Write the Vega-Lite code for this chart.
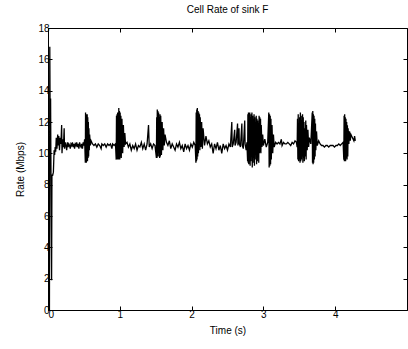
{
"$schema": "https://vega.github.io/schema/vega-lite/v6.json",
"width": 359, "height": 282,
"autosize": "none",
"padding": {"left": 48, "top": 28, "right": 1, "bottom": 39},
"background": "white",
"config": {
  "view": {"stroke": "#000000", "strokeWidth": 1},
  "font": "Liberation Sans",
  "axis": {"grid": false, "domainColor": "#000000", "tickColor": "#000000", "labelColor": "#000000", "titleColor": "#000000", "labelFontSize": 10, "titleFontSize": 10, "titleFontWeight": "normal", "labelFont": "Liberation Sans", "titleFont": "Liberation Sans", "tickSize": -4, "labelPadding": 3}
},
"title": {"text": "Cell Rate of sink F", "fontSize": 10, "fontWeight": "normal", "offset": 8, "font": "Liberation Sans", "color": "#000000"},
"data": {"values": [
{"t":0.02,"r":0},{"t":0.025,"r":16.8},{"t":0.03,"r":12.0},{"t":0.036,"r":13.5},{"t":0.04,"r":9.8},{"t":0.045,"r":5.5},{"t":0.05,"r":1.9},{"t":0.055,"r":8.6},{"t":0.065,"r":8.6},{"t":0.075,"r":8.8},{"t":0.085,"r":10.2},{"t":0.092,"r":9.9},{"t":0.1,"r":10.4},
{"t":0.107,"r":10.1},{"t":0.115,"r":11.0},{"t":0.125,"r":10.3},{"t":0.135,"r":11.2},{"t":0.14,"r":10.5},{"t":0.15,"r":11.1},{"t":0.16,"r":10.2},{"t":0.17,"r":11.0},{"t":0.18,"r":10.6},{"t":0.19,"r":11.8},{"t":0.195,"r":10.0},{"t":0.205,"r":10.9},{"t":0.215,"r":10.4},{"t":0.225,"r":11.6},{"t":0.23,"r":10.3},{"t":0.24,"r":10.7},{"t":0.25,"r":10.5},{"t":0.26,"r":10.2},{"t":0.27,"r":10.7},{"t":0.28,"r":10.4},{"t":0.29,"r":10.6},{"t":0.3,"r":10.5},{"t":0.31,"r":10.3},{"t":0.32,"r":10.6},{"t":0.33,"r":10.5},{"t":0.34,"r":10.7},{"t":0.35,"r":10.4},{"t":0.36,"r":10.6},{"t":0.37,"r":10.3},{"t":0.38,"r":10.6},{"t":0.39,"r":10.5},{"t":0.4,"r":10.7},{"t":0.41,"r":10.4},{"t":0.42,"r":10.6},{"t":0.43,"r":10.3},{"t":0.44,"r":10.7},{"t":0.45,"r":10.5},{"t":0.46,"r":10.4},{"t":0.47,"r":10.6},{"t":0.48,"r":10.3},{"t":0.49,"r":10.7},{"t":0.5,"r":10.5},{"t":0.51,"r":10.9},
{"t":0.52,"r":9.4},{"t":0.523,"r":12.6},{"t":0.527,"r":9.5},{"t":0.53,"r":12.5},{"t":0.534,"r":9.4},{"t":0.538,"r":12.4},{"t":0.542,"r":9.6},{"t":0.546,"r":12.5},{"t":0.55,"r":9.5},{"t":0.554,"r":12.3},{"t":0.558,"r":9.7},{"t":0.562,"r":12.0},{"t":0.566,"r":9.8},{"t":0.57,"r":11.6},{"t":0.575,"r":10.2},{"t":0.58,"r":11.2},{"t":0.59,"r":10.5},{"t":0.6,"r":10.8},
{"t":0.62,"r":10.6},{"t":0.64,"r":10.5},{"t":0.66,"r":10.6},{"t":0.68,"r":10.4},{"t":0.7,"r":10.6},{"t":0.72,"r":10.5},{"t":0.74,"r":10.3},{"t":0.75,"r":10.6},{"t":0.77,"r":10.5},{"t":0.79,"r":10.6},{"t":0.81,"r":10.4},{"t":0.83,"r":10.6},{"t":0.85,"r":10.5},{"t":0.87,"r":10.6},{"t":0.89,"r":10.3},{"t":0.9,"r":10.6},{"t":0.92,"r":10.5},{"t":0.94,"r":10.6},
{"t":0.95,"r":9.6},{"t":0.954,"r":12.4},{"t":0.958,"r":9.6},{"t":0.962,"r":12.5},{"t":0.966,"r":9.6},{"t":0.97,"r":12.6},{"t":0.974,"r":9.7},{"t":0.978,"r":12.5},{"t":0.982,"r":9.6},{"t":0.986,"r":12.9},{"t":0.99,"r":9.7},{"t":0.995,"r":12.7},{"t":1.0,"r":9.6},{"t":1.005,"r":12.6},{"t":1.01,"r":9.8},{"t":1.015,"r":12.4},{"t":1.02,"r":9.7},{"t":1.03,"r":12.2},{"t":1.04,"r":10.0},{"t":1.05,"r":11.8},{"t":1.06,"r":10.4},{"t":1.07,"r":11.3},{"t":1.08,"r":10.6},
{"t":1.1,"r":10.7},{"t":1.12,"r":10.4},{"t":1.14,"r":10.6},{"t":1.16,"r":10.2},{"t":1.18,"r":10.5},{"t":1.2,"r":10.3},{"t":1.22,"r":10.6},{"t":1.24,"r":10.2},{"t":1.26,"r":10.5},{"t":1.28,"r":10.4},{"t":1.3,"r":10.7},{"t":1.32,"r":10.3},{"t":1.34,"r":10.6},{"t":1.36,"r":10.2},{"t":1.38,"r":10.6},{"t":1.4,"r":11.8},{"t":1.41,"r":10.4},{"t":1.43,"r":10.6},{"t":1.45,"r":10.3},{"t":1.47,"r":10.6},{"t":1.49,"r":10.5},
{"t":1.51,"r":9.7},{"t":1.514,"r":12.3},{"t":1.518,"r":9.7},{"t":1.522,"r":12.8},{"t":1.526,"r":11.6},{"t":1.53,"r":12.7},{"t":1.535,"r":9.8},{"t":1.54,"r":12.6},{"t":1.545,"r":10.0},{"t":1.55,"r":12.3},{"t":1.555,"r":9.7},{"t":1.56,"r":12.5},{"t":1.565,"r":9.8},{"t":1.57,"r":12.4},{"t":1.58,"r":9.9},{"t":1.59,"r":12.0},{"t":1.6,"r":10.2},{"t":1.61,"r":11.6},{"t":1.62,"r":10.5},{"t":1.63,"r":11.2},{"t":1.65,"r":10.7},
{"t":1.67,"r":10.5},{"t":1.69,"r":10.8},{"t":1.71,"r":10.3},{"t":1.73,"r":10.6},{"t":1.75,"r":10.4},{"t":1.77,"r":10.2},{"t":1.79,"r":10.6},{"t":1.81,"r":10.4},{"t":1.83,"r":10.7},{"t":1.85,"r":10.3},{"t":1.87,"r":10.5},{"t":1.89,"r":10.1},{"t":1.91,"r":10.6},{"t":1.93,"r":10.3},{"t":1.95,"r":10.5},{"t":1.97,"r":10.2},{"t":1.99,"r":10.6},{"t":2.01,"r":10.4},{"t":2.03,"r":10.7},{"t":2.05,"r":10.5},
{"t":2.06,"r":9.4},{"t":2.064,"r":12.6},{"t":2.068,"r":9.5},{"t":2.072,"r":12.8},{"t":2.076,"r":9.6},{"t":2.08,"r":12.9},{"t":2.085,"r":9.8},{"t":2.09,"r":12.7},{"t":2.095,"r":10.0},{"t":2.1,"r":12.6},{"t":2.105,"r":11.8},{"t":2.11,"r":12.5},{"t":2.115,"r":10.2},{"t":2.12,"r":12.3},{"t":2.13,"r":10.4},{"t":2.14,"r":12.0},{"t":2.15,"r":10.3},{"t":2.16,"r":11.6},{"t":2.18,"r":10.5},{"t":2.2,"r":11.1},{"t":2.22,"r":10.6},{"t":2.24,"r":10.8},
{"t":2.26,"r":10.4},{"t":2.28,"r":10.6},{"t":2.3,"r":10.0},{"t":2.32,"r":10.6},{"t":2.34,"r":10.3},{"t":2.36,"r":10.7},{"t":2.38,"r":10.2},{"t":2.4,"r":10.5},{"t":2.42,"r":10.0},{"t":2.44,"r":10.6},{"t":2.46,"r":10.3},{"t":2.48,"r":10.5},{"t":2.5,"r":10.2},{"t":2.52,"r":10.6},{"t":2.54,"r":10.4},{"t":2.56,"r":12.0},{"t":2.565,"r":10.4},{"t":2.58,"r":10.6},{"t":2.6,"r":11.5},{"t":2.605,"r":10.5},{"t":2.62,"r":10.7},{"t":2.64,"r":11.9},{"t":2.645,"r":10.5},{"t":2.66,"r":11.6},{"t":2.665,"r":10.6},{"t":2.68,"r":10.4},{"t":2.7,"r":11.9},{"t":2.705,"r":10.5},{"t":2.72,"r":10.3},{"t":2.74,"r":12.1},{"t":2.745,"r":10.6},{"t":2.76,"r":10.2},{"t":2.77,"r":10.7},
{"t":2.78,"r":9.5},{"t":2.784,"r":12.5},{"t":2.788,"r":9.4},{"t":2.792,"r":12.6},{"t":2.796,"r":9.3},{"t":2.8,"r":12.4},{"t":2.805,"r":9.6},{"t":2.81,"r":12.6},{"t":2.815,"r":9.2},{"t":2.82,"r":12.3},{"t":2.825,"r":9.5},{"t":2.83,"r":12.5},{"t":2.835,"r":9.8},{"t":2.84,"r":12.6},{"t":2.845,"r":9.1},{"t":2.85,"r":12.4},{"t":2.855,"r":9.4},{"t":2.86,"r":12.2},{"t":2.865,"r":9.7},{"t":2.87,"r":12.5},{"t":2.875,"r":9.2},{"t":2.88,"r":12.3},{"t":2.885,"r":10.0},{"t":2.89,"r":12.0},{"t":2.895,"r":9.6},{"t":2.9,"r":12.4},{"t":2.905,"r":9.3},{"t":2.91,"r":12.2},{"t":2.915,"r":9.5},{"t":2.92,"r":12.1},{"t":2.925,"r":9.8},{"t":2.93,"r":11.9},{"t":2.935,"r":9.4},{"t":2.94,"r":12.4},{"t":2.945,"r":10.0},{"t":2.95,"r":12.3},{"t":2.955,"r":10.1},{"t":2.96,"r":12.2},{"t":2.965,"r":10.0},{"t":2.97,"r":11.8},{"t":2.98,"r":10.4},{"t":2.99,"r":11.2},{"t":3.0,"r":10.5},{"t":3.02,"r":10.9},{"t":3.04,"r":10.4},{"t":3.06,"r":10.7},{"t":3.075,"r":12.6},{"t":3.08,"r":9.1},{"t":3.085,"r":12.5},{"t":3.09,"r":9.2},{"t":3.095,"r":12.4},{"t":3.1,"r":9.3},{"t":3.105,"r":12.2},{"t":3.11,"r":9.6},{"t":3.12,"r":11.8},{"t":3.13,"r":10.0},{"t":3.14,"r":11.2},{"t":3.15,"r":10.4},{"t":3.17,"r":10.7},
{"t":3.19,"r":10.6},{"t":3.21,"r":10.7},{"t":3.23,"r":10.6},{"t":3.25,"r":10.9},{"t":3.26,"r":10.5},{"t":3.28,"r":10.7},{"t":3.3,"r":10.6},{"t":3.32,"r":10.6},{"t":3.34,"r":10.7},{"t":3.36,"r":10.6},{"t":3.38,"r":10.5},{"t":3.4,"r":10.7},{"t":3.42,"r":10.6},{"t":3.44,"r":10.8},{"t":3.46,"r":10.7},
{"t":3.47,"r":10.4},{"t":3.475,"r":12.2},{"t":3.48,"r":9.6},{"t":3.485,"r":12.5},{"t":3.49,"r":9.5},{"t":3.495,"r":11.9},{"t":3.5,"r":9.6},{"t":3.505,"r":12.3},{"t":3.51,"r":9.4},{"t":3.515,"r":12.6},{"t":3.52,"r":9.5},{"t":3.525,"r":12.4},{"t":3.53,"r":9.6},{"t":3.535,"r":12.1},{"t":3.54,"r":9.8},{"t":3.545,"r":12.5},{"t":3.55,"r":9.4},{"t":3.555,"r":12.3},{"t":3.56,"r":9.7},{"t":3.565,"r":12.0},{"t":3.57,"r":9.5},{"t":3.575,"r":11.6},{"t":3.58,"r":9.8},{"t":3.59,"r":12.1},{"t":3.595,"r":9.6},{"t":3.6,"r":11.8},{"t":3.61,"r":10.2},{"t":3.62,"r":11.5},{"t":3.63,"r":10.4},{"t":3.64,"r":11.0},{"t":3.66,"r":10.6},{"t":3.68,"r":12.6},{"t":3.684,"r":9.4},{"t":3.688,"r":12.7},{"t":3.692,"r":9.3},{"t":3.696,"r":12.5},{"t":3.7,"r":9.4},{"t":3.705,"r":12.4},{"t":3.71,"r":9.6},{"t":3.715,"r":12.2},{"t":3.72,"r":9.8},{"t":3.725,"r":11.9},{"t":3.73,"r":10.2},{"t":3.74,"r":11.4},{"t":3.75,"r":10.5},{"t":3.77,"r":10.8},
{"t":3.79,"r":10.6},{"t":3.81,"r":10.5},{"t":3.83,"r":10.5},{"t":3.85,"r":10.4},{"t":3.87,"r":10.5},{"t":3.89,"r":10.5},{"t":3.91,"r":10.4},{"t":3.93,"r":10.5},{"t":3.95,"r":10.5},{"t":3.97,"r":10.5},{"t":3.99,"r":10.4},{"t":4.01,"r":10.5},{"t":4.03,"r":10.5},{"t":4.05,"r":10.6},{"t":4.07,"r":10.5},{"t":4.09,"r":10.6},{"t":4.11,"r":10.7},
{"t":4.12,"r":9.6},{"t":4.124,"r":12.4},{"t":4.128,"r":9.5},{"t":4.132,"r":12.5},{"t":4.136,"r":9.6},{"t":4.14,"r":12.3},{"t":4.145,"r":9.5},{"t":4.15,"r":12.2},{"t":4.155,"r":9.7},{"t":4.16,"r":12.0},{"t":4.165,"r":9.6},{"t":4.17,"r":11.8},{"t":4.175,"r":9.8},{"t":4.18,"r":11.6},{"t":4.19,"r":10.6},{"t":4.2,"r":11.4},{"t":4.21,"r":10.8},{"t":4.22,"r":11.2},{"t":4.24,"r":11.0},{"t":4.26,"r":10.8},{"t":4.27,"r":11.1},{"t":4.28,"r":10.8}
]},
"layer": [
  {"mark": {"type": "line", "color": "#000000", "strokeWidth": 1.3, "clip": true},
   "encoding": {
     "x": {"field": "t", "type": "quantitative", "scale": {"domain": [0, 5], "nice": false, "zero": false}, "axis": {"title": "Time (s)", "values": [0, 1, 2, 3, 4], "titlePadding": 6}},
     "y": {"field": "r", "type": "quantitative", "scale": {"domain": [0, 18], "nice": false}, "axis": {"title": "Rate (Mbps)", "values": [0, 2, 4, 6, 8, 10, 12, 14, 16, 18], "titlePadding": 12}}
   }},
  {"mark": {"type": "line", "strokeOpacity": 0},
   "encoding": {
     "x": {"field": "t", "type": "quantitative", "scale": {"domain": [0, 5], "nice": false, "zero": false}, "axis": {"orient": "top", "labels": false, "title": null, "values": [0, 1, 2, 3, 4, 5], "domain": false}},
     "y": {"field": "r", "type": "quantitative", "scale": {"domain": [0, 18], "nice": false}, "axis": {"orient": "right", "labels": false, "title": null, "values": [0, 2, 4, 6, 8, 10, 12, 14, 16, 18], "domain": false}}
   }}
],
"resolve": {"axis": {"x": "independent", "y": "independent"}}
}
